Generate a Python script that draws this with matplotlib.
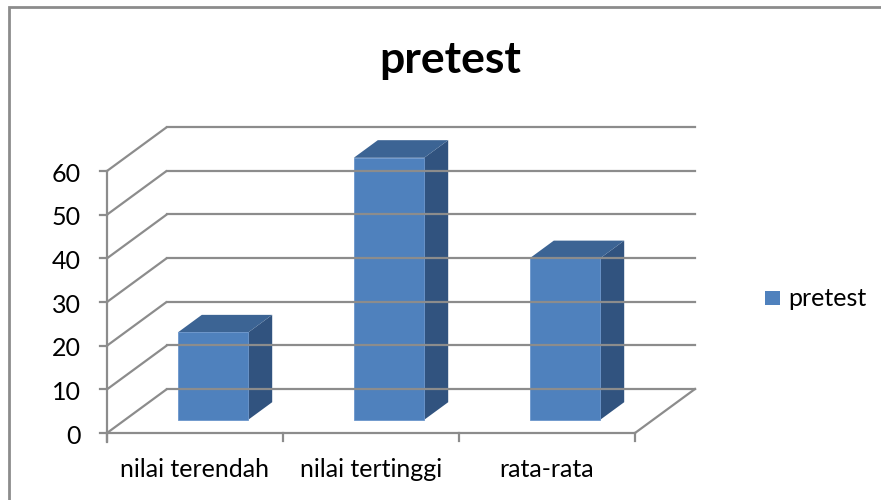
import numpy as np
import matplotlib
matplotlib.use("Agg")
from matplotlib import pyplot as plt
from matplotlib.patches import Polygon, Rectangle

categories = ["nilai terendah", "nilai tertinggi", "rata-rata"]
values = [20, 60, 37]
yticks = [0, 10, 20, 30, 40, 50, 60]
series_name = "pretest"
title = "pretest"

plt.rcParams['font.family'] = ['Lato', 'DejaVu Sans']

W, H = 881, 500
fig = plt.figure(figsize=(W / 100, H / 100), dpi=100)
ax = fig.add_axes([0, 0, 1, 1])
ax.set_axis_off()

# layout: origin pixel of the front axis, pixels per category / per unit
X0, Y0 = 107, 433
CAT = 176.0
PPU = 4.367
ax.set_xlim(-X0 / CAT, (W - X0) / CAT)
ax.set_ylim(-(H - Y0) / PPU, Y0 / PPU)

def px(p):
    return (p - X0) / CAT

def py(p):
    return (Y0 - p) / PPU

DX = 60 / CAT   # depth offset in category units
DY = 44 / PPU   # depth offset in value units
grid_c = "#8c8c8c"
lw = 1.6
n = len(categories)

# chart border
ax.add_patch(Rectangle((px(9), py(520)), px(900) - px(9), py(7) - py(520),
                       fill=False, ec="#8c8c8c", lw=2, clip_on=False))

# walls / gridlines
for v in yticks:
    ax.plot([0, DX], [v, v + DY], color=grid_c, lw=lw, solid_capstyle="butt")
    ax.plot([DX, n + DX], [v + DY, v + DY], color=grid_c, lw=lw)
    ax.plot([px(100), 0], [v, v], color=grid_c, lw=lw)
# floor
ax.plot([0, n], [0, 0], color=grid_c, lw=lw)
ax.plot([n, n + DX], [0, DY], color=grid_c, lw=lw)
# axes
ax.plot([0, 0], [py(442), yticks[-1]], color=grid_c, lw=lw)
for i in range(n + 1):
    ax.plot([i, i], [0, py(441)], color=grid_c, lw=lw)

# bars
front_c = "#4f81bd"
top_c = "#3c6494"
side_c = "#31537f"
bw = 0.4
f0 = 0.3
fd = 0.4
for i, v in enumerate(values):
    x0 = i + 0.5 - bw / 2 + f0 * DX
    x1 = x0 + bw
    b = f0 * DY
    ddx, ddy = fd * DX, fd * DY
    ax.add_patch(Polygon([(x1, b), (x1 + ddx, b + ddy), (x1 + ddx, v + b + ddy), (x1, v + b)],
                         closed=True, fc=side_c, ec="none"))
    ax.add_patch(Polygon([(x0, v + b), (x1, v + b), (x1 + ddx, v + b + ddy), (x0 + ddx, v + b + ddy)],
                         closed=True, fc=top_c, ec="none"))
    ax.add_patch(Rectangle((x0, b), bw, v, fc=front_c, ec="#6b96cc", lw=0.6))

# tick labels
for v in yticks:
    ax.text(px(81), v - 10.7 / PPU, str(v), ha="right", va="baseline", fontsize=18, color="#000000")
for i, c in enumerate(categories):
    ax.text(i + 0.5, py(477), c, ha="center", va="baseline", fontsize=18, color="#000000")

# title
ax.text(px(450), py(73), title, ha="center", va="baseline", fontsize=32, fontweight="bold")

# legend
ax.add_patch(Rectangle((px(765), py(305)), px(780) - px(765), py(291) - py(305),
                       fc=front_c, ec="none"))
ax.text(px(788), py(306), series_name, ha="left", va="baseline", fontsize=18)

fig.savefig("out.png", dpi=100)
